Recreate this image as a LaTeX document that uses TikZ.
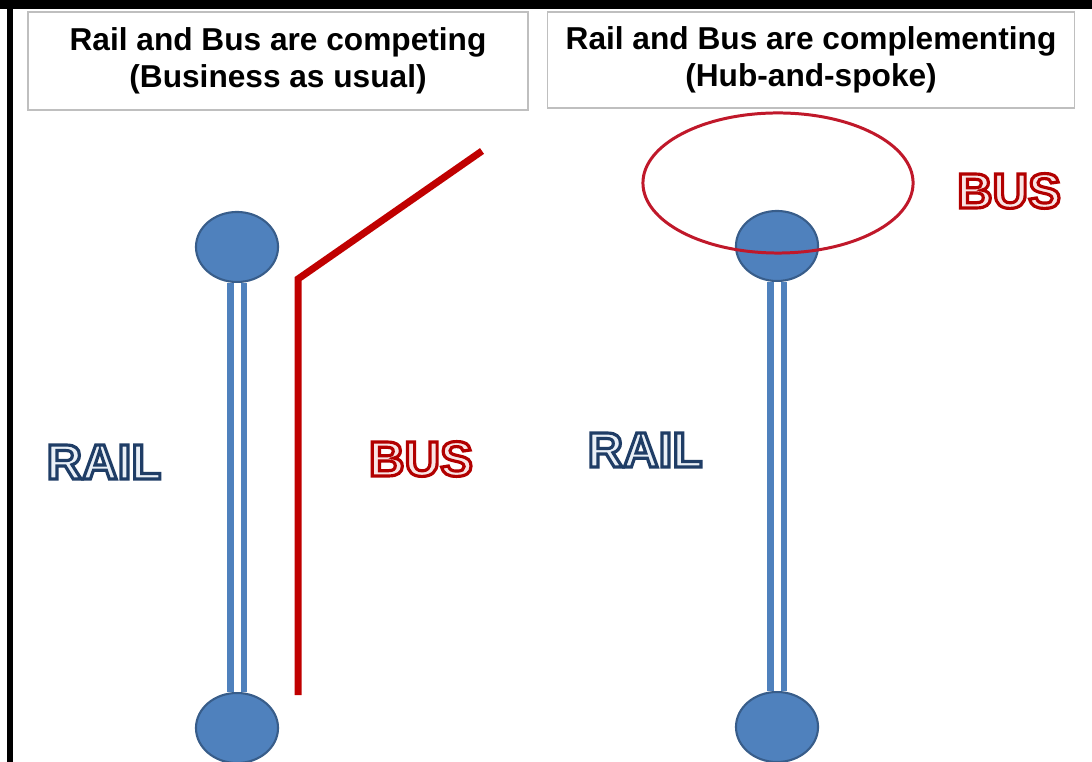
\documentclass[tikz,border=0pt]{standalone}
\usepackage{fontspec}
\setmainfont{Liberation Sans}
\usetikzlibrary{shapes.geometric}

\definecolor{blu}{HTML}{4F81BD}
\definecolor{bluscuro}{HTML}{385D8A}
\definecolor{rosso}{HTML}{C00000}
\definecolor{anellorosso}{HTML}{C0182A}
\definecolor{grigio}{HTML}{BFBFBF}

% testo con contorno: #1 bordo (rgb pdf), #2 riempimento, #3 testo
\newcommand{\contorno}[3]{%
  \textcolor{#2}{\special{pdf:literal direct #1 RG 2 Tr 0.9 w}#3%
    \special{pdf:literal direct 0 Tr}}}

\begin{document}
\begin{tikzpicture}[x=0.01cm,y=-0.01cm,
    stazione/.style={ellipse,draw=bluscuro,fill=blu,line width=0.6pt,
      minimum width=0.82cm,minimum height=0.70cm,inner sep=0pt},
    binario/.style={draw=blu,line width=0.065cm,double=white,double distance=0.07cm},
    autobus/.style={draw=rosso,line width=0.07cm,line join=miter},
    anello/.style={ellipse,draw=anellorosso,line width=0.85pt,
      minimum width=2.70cm,minimum height=1.40cm,inner sep=0pt},
    titolo/.style={draw=grigio,fill=white,line width=0.4pt,align=center,
      font=\fontsize{9}{10.4}\selectfont\bfseries,inner sep=0pt},
    scritta/.style={font=\fontsize{14}{16}\selectfont\bfseries,inner sep=0pt}]

  \useasboundingbox (0,0) rectangle (1092,762);
  \fill[white] (0,0) rectangle (1092,762);
  \clip (0,0) rectangle (1092,762);

  % ---- cornice ---------------------------------------------------------------
  \fill[black] (0,0) rectangle (1092,9);
  \fill[black] (7,0) rectangle (13,762);

  % ---- titoli ----------------------------------------------------------------
  \node[titolo,minimum width=5.00cm,minimum height=0.98cm] (tit1) at (278,61)
    {Rail and Bus are competing\\(Business as usual)};
  \node[titolo,minimum width=5.27cm,minimum height=0.96cm] (tit2) at (811,60)
    {Rail and Bus are complementing\\(Hub-and-spoke)};

  % ---- stazioni --------------------------------------------------------------
  \node[stazione] (a1) at (237,247) {};
  \node[stazione] (a2) at (237,728) {};
  \node[stazione] (h1) at (777,246) {};
  \node[stazione] (h2) at (777,727) {};

  % ---- binari ----------------------------------------------------------------
  \draw[binario] (a1) -- (a2);
  \draw[binario] (h1) -- (h2);

  % ---- autobus ---------------------------------------------------------------
  \coordinate (b0) at (298,695);
  \coordinate (b1) at (298,279);
  \coordinate (b2) at (482,151);
  \draw[autobus] (b0) -- (b1) -- (b2);
  \node[anello] (rete) at (778,183) {};

  % ---- scritte ---------------------------------------------------------------
  \node[scritta] (rail1) at (104,462) {\contorno{0.12 0.24 0.40}{blu!12}{RAIL}};
  \node[scritta] (bus1)  at (421,459) {\contorno{0.70 0 0}{rosso!10}{BUS}};
  \node[scritta] (rail2) at (645,450) {\contorno{0.12 0.24 0.40}{blu!12}{RAIL}};
  \node[scritta] (bus2)  at (1009,191) {\contorno{0.70 0 0}{rosso!10}{BUS}};
\end{tikzpicture}
\end{document}
